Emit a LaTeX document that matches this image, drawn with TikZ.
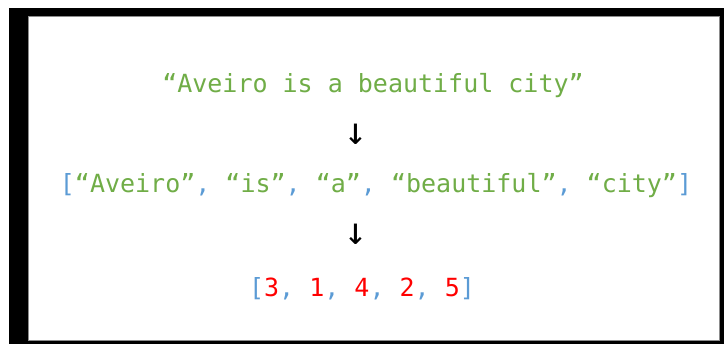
\documentclass[tikz,border=0pt]{standalone}
\usepackage{fontspec}
\newfontfamily\monofont{DejaVu Sans Mono}
\definecolor{tgreen}{RGB}{112,173,71}
\definecolor{tblue}{RGB}{91,155,213}
\definecolor{tred}{RGB}{255,0,0}
\tikzset{
  line/.style={anchor=base, inner sep=0pt, font=\monofont\fontsize{25}{29}\selectfont},
  arrowglyph/.style={anchor=center, inner sep=0pt, font=\monofont\fontsize{38}{40}\selectfont, text=black}
}
\begin{document}
\begin{tikzpicture}[x=1pt,y=-1pt]
\useasboundingbox (0,0) rectangle (725,344);
\fill[white] (0,0) rectangle (725,344);
\fill[black] (9,8) rectangle (724,344);
\filldraw[fill=white, draw=black!45, line width=0.8pt] (28,16.5) rectangle (719,340);
\node[line, text=tgreen] (l1) at (373,93) {“Aveiro is a beautiful city”};
\node[arrowglyph] (a1) at (356,134) {↓};
\node[line] (l2) at (376,193) {\textcolor{tblue}{[}\textcolor{tgreen}{“Aveiro”}\textcolor{tblue}{, }\textcolor{tgreen}{“is”}\textcolor{tblue}{, }\textcolor{tgreen}{“a”}\textcolor{tblue}{, }\textcolor{tgreen}{“beautiful”}\textcolor{tblue}{, }\textcolor{tgreen}{“city”}\textcolor{tblue}{]}};
\node[arrowglyph] (a2) at (356,234) {↓};
\node[line] (l3) at (362,297) {\textcolor{tblue}{[}\textcolor{tred}{3}\textcolor{tblue}{, }\textcolor{tred}{1}\textcolor{tblue}{, }\textcolor{tred}{4}\textcolor{tblue}{, }\textcolor{tred}{2}\textcolor{tblue}{, }\textcolor{tred}{5}\textcolor{tblue}{]}};
\end{tikzpicture}
\end{document}
